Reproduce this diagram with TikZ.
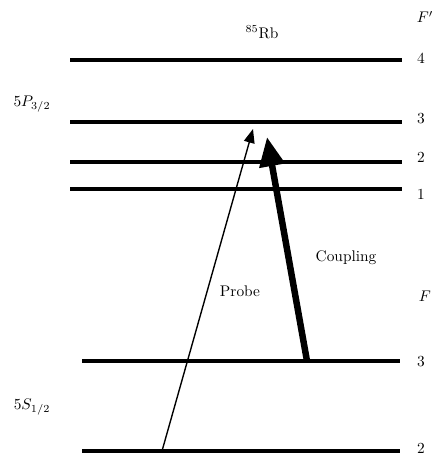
\documentclass[tikz,border=0pt]{standalone}
\usetikzlibrary{arrows.meta}
\begin{document}
\begin{tikzpicture}[x=0.65pt,y=-0.65pt,
  level/.style={line width=2pt},
  lab/.style={anchor=center,inner sep=0pt},
  probe/.style={line width=0.9pt,-{Triangle[length=9pt,width=7pt]}},
  coupling/.style={line width=4.2pt,-{Triangle[length=19pt,width=16pt]}}]
\useasboundingbox (0,0) rectangle (437,457);
% levels
\coordinate (u4a) at (70,60);  \coordinate (u4b) at (402,60);
\coordinate (u3a) at (70,122); \coordinate (u3b) at (402,122);
\coordinate (u2a) at (70,162); \coordinate (u2b) at (402,162);
\coordinate (u1a) at (70,189); \coordinate (u1b) at (402,189);
\coordinate (g3a) at (82,361); \coordinate (g3b) at (400,361);
\coordinate (g2a) at (82,451); \coordinate (g2b) at (400,451);
\draw[level] (u4a) -- (u4b);
\draw[level] (u3a) -- (u3b);
\draw[level] (u2a) -- (u2b);
\draw[level] (u1a) -- (u1b);
\draw[level] (g3a) -- (g3b);
\draw[level] (g2a) -- (g2b);
% labels
\node[lab] (Fp) at (425,17) {$F'$};
\node[lab] (l4) at (421,58) {4};
\node[lab] (l3) at (421,119) {3};
\node[lab] (l2) at (421,157) {2};
\node[lab] (l1) at (421,194) {1};
\node[lab] (F) at (425,296) {$F$};
\node[lab] (m3) at (421,362) {3};
\node[lab] (m2) at (421,448) {2};
\node[lab] (rb) at (262,32) {${}^{85}\mathrm{Rb}$};
\node[lab] (P) at (32,104) {$5P_{3/2}$};
\node[lab] (S) at (32,407) {$5S_{1/2}$};
% arrows
\coordinate (pa) at (162,451);
\coordinate (pb) at (253,129);
\coordinate (ca) at (307,361);
\coordinate (cb) at (267,137);
\draw[probe] (pa) -- (pb);
\draw[coupling] (ca) -- (cb);
\node[lab] (probelab) at (240,291) {Probe};
\node[lab] (couplab) at (346,258) {Coupling};
\end{tikzpicture}
\end{document}
